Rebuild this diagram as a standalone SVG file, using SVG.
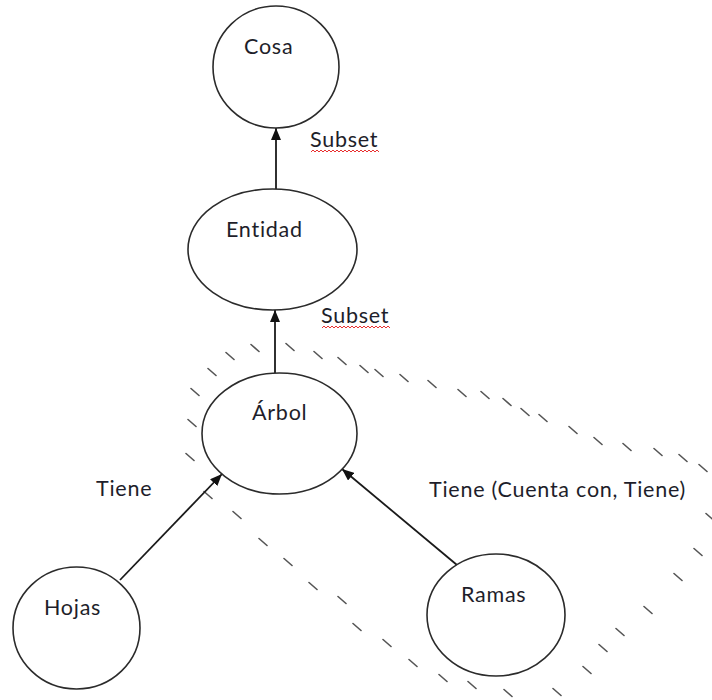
<svg xmlns="http://www.w3.org/2000/svg" width="712" height="700" viewBox="0 0 712 700">
  <style>
    .node { fill: #ffffff; stroke: #2b2b2b; stroke-width: 1.6; }
    .label { font-family: Lato, "Liberation Sans", sans-serif; font-size: 21.5px; letter-spacing: 0.75px; fill: #1e1e2a; }
    .edge { stroke: #1a1a1a; stroke-width: 1.8; fill: none; }
    .hatch { stroke: #555555; stroke-width: 1.6; fill: none; stroke-linecap: round; }
    .squiggle { stroke: #e83030; stroke-width: 1; fill: none; }
  </style>
  <defs>
    <marker id="arrow" markerUnits="userSpaceOnUse" markerWidth="12" markerHeight="10" refX="12" refY="5" orient="auto">
      <path d="M0,0 L12,5 L0,10 z" fill="#111111"/>
    </marker>
  </defs>
  <rect width="712" height="700" fill="#ffffff"/>

  <!-- dashed boundary around the tree and its parts -->
  <g id="boundary">
    <path class="hatch" d="
      M191,388.5 l8,7 M208,368.5 l8,7 M226,352.5 l8,7 M251,344.5 l8,7 M286,343.5 l8,7
      M314,351.5 l8,7 M338,357.5 l8,7 M360,365.5 l8,7 M375,369.5 l8,7 M400,374.5 l8,7
      M428,380.5 l8,7 M458,389.5 l8,7 M481,391.5 l8,7 M503,398.5 l8,7 M521,408.5 l8,7
      M539,414.5 l8,7 M569,426.5 l8,7 M594,437.5 l8,7 M623,443.5 l8,7 M654,448.5 l8,7
      M679,454.5 l8,7 M699,464.5 l8,7
      M706,513.5 l8,7 M694,548.5 l8,7 M674,573.5 l8,7 M644,606.5 l8,7 M616,628.5 l8,7
      M599,644.5 l8,7 M583,666.5 l8,7 M553,688.5 l8,7
      M504,689.5 l8,7 M468,681.5 l8,7 M439,674.5 l8,7 M409,659.5 l8,7 M383,639.5 l8,7
      M353,623.5 l8,7 M338,596.5 l8,7 M309,582.5 l8,7 M284,558.5 l8,7 M259,538.5 l8,7
      M233,511.5 l8,7 M204,491.5 l8,7
      M186,453.5 l8,7 M188,419.5 l8,7"/>
  </g>

  <!-- connectors -->
  <g id="connectors">
    <line class="edge" x1="276" y1="189" x2="276" y2="128" marker-end="url(#arrow)"/>
    <line class="edge" x1="275" y1="373" x2="275" y2="310" marker-end="url(#arrow)"/>
    <line class="edge" x1="120" y1="580" x2="222" y2="474" marker-end="url(#arrow)"/>
    <line class="edge" x1="457" y1="565" x2="342" y2="469" marker-end="url(#arrow)"/>
  </g>

  <!-- edge labels -->
  <g id="edge-labels">
    <text class="label" x="310" y="147">Subset</text>
    <path class="squiggle" d="M311,152 l2,-2 l2,2 l2,-2 l2,2 l2,-2 l2,2 l2,-2 l2,2 l2,-2 l2,2 l2,-2 l2,2 l2,-2 l2,2 l2,-2 l2,2 l2,-2 l2,2 l2,-2 l2,2 l2,-2 l2,2 l2,-2 l2,2 l2,-2 l2,2 l2,-2 l2,2 l2,-2 l2,2 l2,-2 l2,2 l2,-2 l2,2"/>
    <text class="label" x="321" y="323">Subset</text>
    <path class="squiggle" d="M322,328 l2,-2 l2,2 l2,-2 l2,2 l2,-2 l2,2 l2,-2 l2,2 l2,-2 l2,2 l2,-2 l2,2 l2,-2 l2,2 l2,-2 l2,2 l2,-2 l2,2 l2,-2 l2,2 l2,-2 l2,2 l2,-2 l2,2 l2,-2 l2,2 l2,-2 l2,2 l2,-2 l2,2 l2,-2 l2,2 l2,-2 l2,2"/>
    <text class="label" x="96" y="496">Tiene</text>
    <text class="label" x="429" y="497">Tiene (Cuenta con, Tiene)</text>
  </g>

  <g id="cosa">
    <ellipse class="node" cx="276" cy="67" rx="63" ry="61"/>
    <text class="label" x="244" y="54">Cosa</text>
  </g>
  <g id="entidad">
    <ellipse class="node" cx="272.5" cy="249.5" rx="84.5" ry="60.5"/>
    <text class="label" x="226" y="237">Entidad</text>
  </g>
  <g id="arbol">
    <ellipse class="node" cx="279.5" cy="433.5" rx="77.5" ry="60.5"/>
    <text class="label" x="252" y="420">Árbol</text>
  </g>
  <g id="hojas">
    <ellipse class="node" cx="76.5" cy="628" rx="63.5" ry="61"/>
    <text class="label" x="44" y="615">Hojas</text>
  </g>
  <g id="ramas">
    <ellipse class="node" cx="496" cy="615" rx="69" ry="61"/>
    <text class="label" x="461" y="602">Ramas</text>
  </g>
</svg>
